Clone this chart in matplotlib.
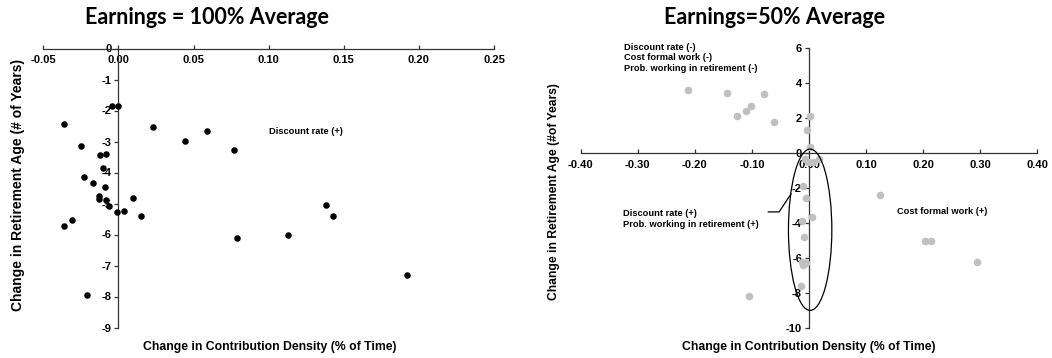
import matplotlib
matplotlib.use("Agg")
import matplotlib.pyplot as plt
from matplotlib.patches import Ellipse
import numpy as np

plt.rcParams['axes.unicode_minus'] = False
plt.rcParams['font.family'] = ['Liberation Sans', 'DejaVu Sans']

# earnings = 100% of average: (change in density, change in retirement age)
x100 = [-0.004, 0.000, -0.036, 0.023, -0.025, -0.012, -0.0085, -0.010, -0.023, -0.017,
        -0.009, -0.013, -0.013, -0.008, -0.006, -0.001, 0.004, 0.010, 0.015, -0.031,
        -0.036, -0.021, 0.044, 0.059, 0.077, 0.079, 0.113, 0.138, 0.143, 0.192]
y100 = [-1.87, -1.87, -2.42, -2.53, -3.15, -3.45, -3.40, -3.85, -4.15, -4.34,
        -4.48, -4.77, -4.84, -4.88, -5.08, -5.26, -5.23, -4.81, -5.39, -5.53,
        -5.72, -7.96, -2.99, -2.66, -3.29, -6.10, -6.01, -5.04, -5.41, -7.32]

# earnings = 50% of average
x50 = [-0.2125, -0.143, -0.078, -0.101, -0.110, -0.1255, -0.062, 0.002, -0.003, 0.002,
       -0.007, -0.001, 0.0075, 0.018, -0.010, -0.005, 0.005, -0.012, -0.009, -0.013,
       -0.010, -0.005, -0.0145, 0.125, -0.1045, 0.204, 0.214, 0.294]
y50 = [3.62, 3.43, 3.37, 2.72, 2.42, 2.13, 1.77, 2.13, 1.33, 0.32,
       -0.34, -0.50, -0.50, -0.34, -1.87, -2.55, -3.68, -3.91, -4.80, -6.25,
       -6.40, -6.29, -7.62, -2.42, -8.19, -5.01, -5.05, -6.21]

xticks100 = [-0.05, 0.00, 0.05, 0.10, 0.15, 0.20, 0.25]
yticks100 = [0, -1, -2, -3, -4, -5, -6, -7, -8, -9]
xticks50 = [-0.40, -0.30, -0.20, -0.10, 0.00, 0.10, 0.20, 0.30, 0.40]
yticks50 = [6, 4, 2, 0, -2, -4, -6, -8, -10]

W, H = 1052, 358
fig = plt.figure(figsize=(W / 100, H / 100), dpi=100)


def px_axes(x0, y0, x1, y1):
    return fig.add_axes([x0 / W, 1 - y1 / H, (x1 - x0) / W, (y1 - y0) / H])


def style_axes(ax):
    ax.patch.set_alpha(0)
    ax.spines['top'].set_visible(False)
    ax.spines['right'].set_visible(False)
    ax.spines['left'].set_position(('data', 0))
    ax.spines['bottom'].set_position(('data', 0))
    for s in ('left', 'bottom'):
        ax.spines[s].set_color('#333333')
        ax.spines[s].set_linewidth(0.9)
    ax.tick_params(axis='x', direction='in', length=3, width=0.9, color='#333333',
                   pad=5, labelsize=8)
    ax.tick_params(axis='y', direction='out', length=3, width=0.9, color='#333333',
                   pad=2, labelsize=8)
    for lab in ax.get_xticklabels() + ax.get_yticklabels():
        lab.set_fontweight('bold')


note = dict(fontsize=6.7, fontweight='bold')

# left panel
ax1 = px_axes(43.3, 48.5, 494, 327.5)
ax1.scatter(x100, y100, s=22, color='black', zorder=3, linewidths=0)
ax1.set_xlim(-0.05, 0.25)
ax1.set_ylim(-9, 0)
ax1.set_xticks(xticks100)
ax1.set_xticklabels(['%.2f' % v for v in xticks100])
ax1.set_yticks(yticks100)
ax1.set_yticklabels([str(v) for v in yticks100])
style_axes(ax1)
ax1.text(0.10, -2.67, 'Discount rate (+)', va='center', **note)

# right panel
ax2 = px_axes(580.7, 48.3, 1037.3, 327.7)
ax2.scatter(x50, y50, s=30, color='#c0c0c0', zorder=3, linewidths=0)
ax2.set_xlim(-0.40, 0.40)
ax2.set_ylim(-10, 6)
ax2.set_xticks(xticks50)
ax2.set_xticklabels(['%.2f' % v for v in xticks50])
ax2.set_yticks(yticks50)
ax2.set_yticklabels([str(v) for v in yticks50])
style_axes(ax2)
ax2.add_patch(Ellipse((0.002, -4.39), 0.076, 9.24, fill=False, edgecolor='black',
                      linewidth=0.9, zorder=4))
ax2.plot([-0.0713, -0.0524, -0.0315], [-3.37, -3.37, -2.34], color='black',
         linewidth=0.9, zorder=4)
ax2.text(-0.325, 6.33, 'Discount rate (-)\nCost formal work (-)\nProb. working in retirement (-)',
         va='top', linespacing=1.25, **note)
ax2.text(-0.326, -3.23, 'Discount rate (+)\nProb. working in retirement (+)',
         va='top', linespacing=1.25, **note)
ax2.text(0.155, -3.37, 'Cost formal work (+)', va='center', **note)

# titles and axis labels
title_font = dict(fontsize=15.5, fontweight='bold', family=['Lato', 'DejaVu Sans'])
fig.text(207 / W, 1 - 23.5 / H, 'Earnings = 100% Average', ha='center', va='baseline',
         **title_font)
fig.text(774 / W, 1 - 23.5 / H, 'Earnings=50% Average', ha='center', va='baseline',
         **title_font)
fig.text(270 / W, 1 - 347 / H, 'Change in Contribution Density (% of Time)', ha='center',
         va='center', fontsize=8.8, fontweight='bold')
fig.text(809 / W, 1 - 347 / H, 'Change in Contribution Density (% of Time)', ha='center',
         va='center', fontsize=8.8, fontweight='bold')
fig.text(18 / W, 1 - 185 / H, 'Change in Retirement Age (# of Years)', ha='center',
         va='center', rotation=90, fontsize=10, fontweight='bold')
fig.text(554 / W, 1 - 192 / H, 'Change in Retirement Age (#of Years)', ha='center',
         va='center', rotation=90, fontsize=8.7, fontweight='bold')

fig.savefig('out.png', dpi=100)
